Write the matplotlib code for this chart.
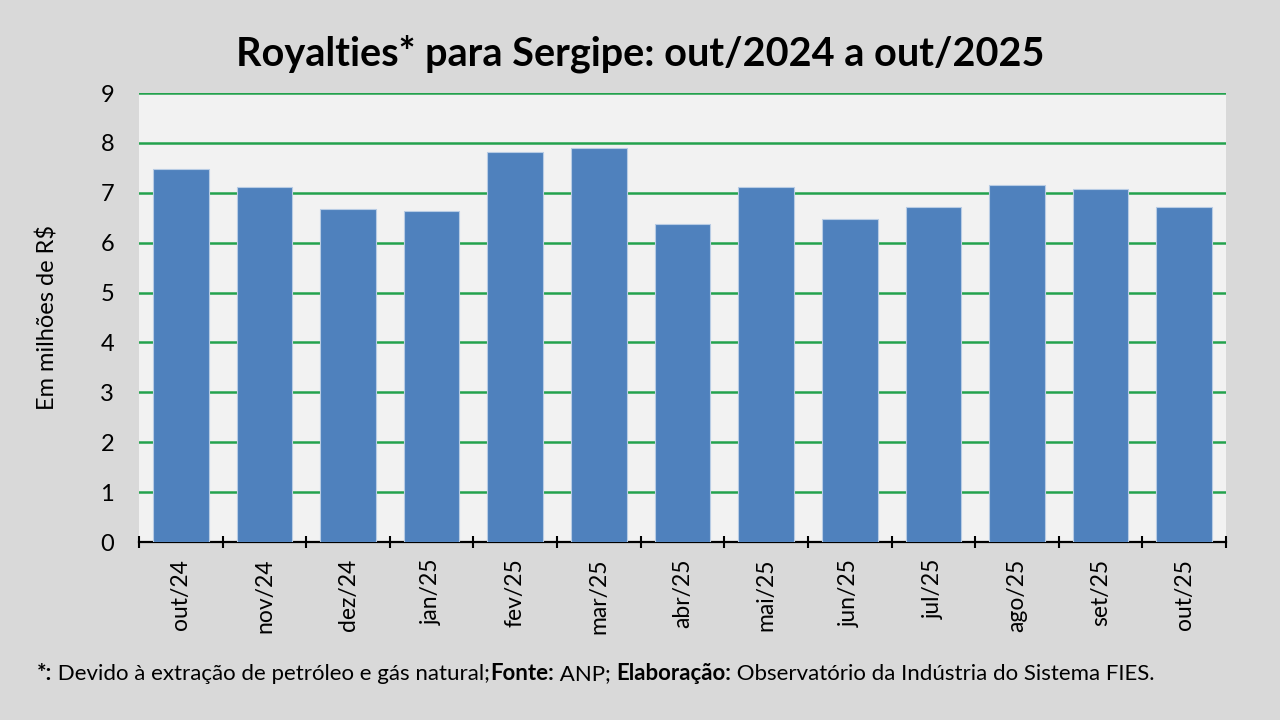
import matplotlib
matplotlib.use("Agg")
import matplotlib.pyplot as plt
import numpy as np

plt.rcParams['font.family'] = ['Lato', 'DejaVu Sans']

# Dados (em milhões de R$)
meses = ['out/24', 'nov/24', 'dez/24', 'jan/25', 'fev/25', 'mar/25', 'abr/25',
         'mai/25', 'jun/25', 'jul/25', 'ago/25', 'set/25', 'out/25']
royalties = [7.47, 7.11, 6.67, 6.64, 7.81, 7.90, 6.37,
             7.12, 6.47, 6.71, 7.15, 7.08, 6.71]

fig = plt.figure(figsize=(12.8, 7.2), dpi=100, facecolor='#d9d9d9')
ax = fig.add_axes([0.1086, 0.2472, 0.8492, 0.6236])
ax.set_facecolor('#f2f2f2')

x = np.arange(len(meses))
ax.bar(x, royalties, width=0.665, color='#4f81bd', edgecolor='#b8cce4',
       linewidth=0.8, zorder=3)

ax.set_xlim(-0.5, len(meses) - 0.5)
ax.set_ylim(0, 9)
ax.set_yticks(range(0, 10))
ax.yaxis.grid(True, color='#23a24d', linewidth=1.8, zorder=1)
ax.set_axisbelow(True)

for s in ['top', 'right', 'left']:
    ax.spines[s].set_visible(False)
ax.spines['bottom'].set_color('black')
ax.spines['bottom'].set_linewidth(1.6)

# ticks do eixo x nas divisas entre categorias
ax.set_xticks(np.arange(-0.5, len(meses), 1.0))
ax.set_xticklabels([])
ax.set_xticks(x, minor=True)
ax.set_xticklabels(meses, minor=True, rotation=90, fontsize=16.5)
ax.tick_params(axis='x', which='major', direction='inout', length=9, width=1.5, color='black')
ax.tick_params(axis='x', which='minor', length=0, pad=12)
ax.tick_params(axis='y', length=0, labelsize=17, pad=18)

ax.set_ylabel('Em milhões de R$', fontsize=17, labelpad=30)

fig.text(0.5, 0.925, 'Royalties* para Sergipe: out/2024 a out/2025',
         ha='center', va='center', fontsize=28.5, fontweight='bold')

# rodapé (partes em negrito e normal)
parts = [('*:', 'bold'), (' Devido à extração de petróleo e gás natural;', 'normal'),
         ('Fonte:', 'bold'), (' ANP; ', 'normal'), ('Elaboração:', 'bold'),
         (' Observatório da Indústria do Sistema FIES.', 'normal')]
renderer = fig.canvas.get_renderer()
xpos = 0.029
for txt, w in parts:
    t = fig.text(xpos, 0.056, txt, fontsize=16, fontweight=w, va='baseline')
    bb = t.get_window_extent(renderer=renderer)
    xpos += bb.width / fig.bbox.width

fig.savefig('out.png', dpi=100, facecolor=fig.get_facecolor())
